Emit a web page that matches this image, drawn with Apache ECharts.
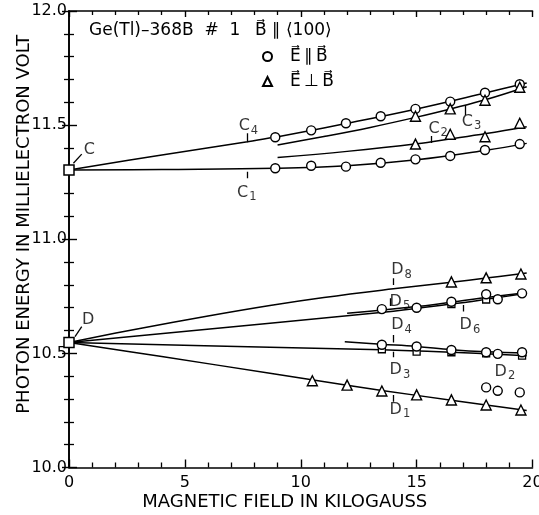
<!DOCTYPE html>
<html>
<head>
<meta charset="utf-8">
<script src="https://cdn.jsdelivr.net/npm/echarts@6/dist/echarts.min.js"></script>
<style>
  html, body { margin: 0; padding: 0; background: #fff; }
  #chart { width: 539px; height: 515px; }
</style>
</head>
<body>
<div id="chart"></div>
<script>
const FONT = 'DejaVu Sans';
const INK = '#000';

// Axis ticks
const xTicks = [0, 5, 10, 15, 20];
const yTicks = [10.0, 10.5, 11.0, 11.5, 12.0];

// Zero-field levels C and D
const originNames = ['C', 'D'];
const originEnergy = [11.303, 10.548];

// C group: measured levels (kG, meV)
const fieldC = [8.9, 10.45, 11.95, 13.45, 14.95, 16.45, 17.95, 19.45];
const energyC4 = [11.447, 11.477, 11.508, 11.539, 11.571, 11.603, 11.642, 11.679];
const energyC1 = [11.311, 11.322, 11.318, 11.335, 11.350, 11.365, 11.391, 11.417];
const fieldC23 = [14.95, 16.45, 17.95, 19.45];
const energyC3 = [11.539, 11.571, 11.609, 11.666];
const energyC2 = [11.417, 11.460, 11.449, 11.508];

// D group: measured levels
const fieldD8 = [16.5, 18.0, 19.5];
const energyD8 = [10.813, 10.831, 10.848];
const fieldD45 = [13.5, 15.0, 16.5, 18.0, 18.5, 19.55];
const energyD5 = [10.694, 10.700, 10.726, 10.759, 10.737, 10.763];
const energyD4 = [10.538, 10.530, 10.515, 10.505, 10.498, 10.505];
const fieldD6 = [16.5, 18.0];
const energyD6 = [10.716, 10.736];
const fieldD3 = [13.5, 15.0, 16.5, 18.0, 19.55];
const energyD3 = [10.518, 10.508, 10.505, 10.500, 10.490];
const fieldD1 = [10.5, 12.0, 13.5, 15.0, 16.5, 18.0, 19.5];
const energyD1 = [10.380, 10.361, 10.335, 10.318, 10.296, 10.274, 10.252];
const fieldD2 = [18.0, 18.5, 19.45];
const energyD2 = [10.351, 10.336, 10.329];

// Fitted curves through the levels
const curveC4Field = [0, 3.8, 7.7, 8.7];
const curveC4Energy = [11.303, 11.366, 11.427, 11.445];
const fitC4Field = [8.9, 12, 15, 18, 19.75];
const fitC4Energy = [11.447, 11.508, 11.571, 11.642, 11.685];
const fitC1Field = [0, 4, 8.9, 12, 15, 18, 19.75];
const fitC1Energy = [11.303, 11.306, 11.311, 11.322, 11.348, 11.390, 11.420];
const fitC3Field = [9, 11, 13, 15, 16.5, 18, 19.75];
const fitC3Energy = [11.413, 11.450, 11.490, 11.535, 11.572, 11.612, 11.668];
const fitC2Field = [9, 12, 15, 16.5, 18, 19.75];
const fitC2Energy = [11.358, 11.385, 11.418, 11.440, 11.463, 11.493];

const fitD8Field = [0, 3, 6, 8.67, 11, 14, 16.5, 18, 19.75];
const fitD8Energy = [10.548, 10.608, 10.664, 10.710, 10.745, 10.783, 10.812, 10.830, 10.852];
const fitD6Field = [0, 8.67, 14, 16.5, 18, 19.75];
const fitD6Energy = [10.548, 10.632, 10.685, 10.716, 10.737, 10.763];
const fitD5Field = [12, 15, 18, 19.75];
const fitD5Energy = [10.676, 10.705, 10.745, 10.766];
const fitD4Field = [11.9, 13.5, 15, 16.5, 18, 19.75];
const fitD4Energy = [10.551, 10.540, 10.530, 10.516, 10.507, 10.502];
const fitD3Field = [0, 8.67, 13.5, 16.5, 19.75];
const fitD3Energy = [10.548, 10.527, 10.516, 10.505, 10.490];
const fitD1Field = [0, 4, 8.67, 12, 15, 18, 19.75];
const fitD1Energy = [10.548, 10.486, 10.413, 10.360, 10.316, 10.274, 10.250];

// Level labels with their pointer strokes (data units)
const callouts = [
  { text: 'C', sub: '',  at: [0.88, 11.390], tick: [[0.19, 11.333], [0.55, 11.373]] },
  { text: 'D', sub: '',  at: [0.83, 10.646], tick: [[0.26, 10.573], [0.55, 10.617]] },
  { text: 'C', sub: '4', at: [7.74, 11.496], tick: [[7.68, 11.464], [7.68, 11.425]] },
  { text: 'C', sub: '1', at: [7.67, 11.205], tick: [[7.68, 11.296], [7.68, 11.267]] },
  { text: 'C', sub: '2', at: [15.93, 11.483], tick: [[15.65, 11.452], [15.65, 11.422]] },
  { text: 'C', sub: '3', at: [17.37, 11.515], tick: [[17.08, 11.588], [17.08, 11.544]] },
  { text: 'D', sub: '8', at: [14.35, 10.865], tick: [[13.99, 10.829], [13.99, 10.800]] },
  { text: 'D', sub: '5', at: [14.28, 10.726], tick: [[13.88, 10.741], [13.88, 10.708]] },
  { text: 'D', sub: '4', at: [14.35, 10.624], tick: [[14.0, 10.580], [14.0, 10.548]] },
  { text: 'D', sub: '6', at: [17.30, 10.624], tick: [[17.01, 10.712], [17.01, 10.683]] },
  { text: 'D', sub: '3', at: [14.28, 10.427], tick: [[14.0, 10.507], [14.0, 10.483]] },
  { text: 'D', sub: '1', at: [14.28, 10.252], tick: [[14.0, 10.318], [14.0, 10.288]] },
  { text: 'D', sub: '2', at: [18.81, 10.420], tick: null }
];

const zip = (xs, ys) => xs.map((x, i) => [x, ys[i]]);

const ARROW = '\u20D7';
const PARALLEL = '\u2225';
const nameParallel = 'E' + ARROW + '\u2009' + PARALLEL + '\u2009' + 'B' + ARROW;
const namePerp = 'E' + ARROW + '\u2009\u22A5\u2009' + 'B' + ARROW;

const curves = [
  [curveC4Field, curveC4Energy], [fitC4Field, fitC4Energy], [fitC1Field, fitC1Energy],
  [fitC3Field, fitC3Energy], [fitC2Field, fitC2Energy],
  [fitD8Field, fitD8Energy], [fitD6Field, fitD6Energy], [fitD5Field, fitD5Energy],
  [fitD4Field, fitD4Energy], [fitD3Field, fitD3Energy], [fitD1Field, fitD1Energy]
];

const circlePts = [].concat(
  zip(fieldC, energyC4), zip(fieldC, energyC1),
  zip(fieldD45, energyD5), zip(fieldD45, energyD4), zip(fieldD2, energyD2)
);
const trianglePts = [].concat(
  zip(fieldC23, energyC3), zip(fieldC23, energyC2),
  zip(fieldD8, energyD8), zip(fieldD1, energyD1)
);
const squarePts = [].concat(zip(fieldD6, energyD6), zip(fieldD3, energyD3));
const originPts = originEnergy.map((e, i) => ({ name: originNames[i], value: [0, e] }));

const series = [];
curves.forEach(([xs, ys]) => {
  series.push({
    type: 'line', data: zip(xs, ys), smooth: 0.4, showSymbol: false, silent: true,
    lineStyle: { color: INK, width: 1.5 }, z: 2
  });
});
series.push({
  type: 'lines', coordinateSystem: 'cartesian2d', silent: true, z: 2,
  lineStyle: { color: INK, width: 1.3, opacity: 1 },
  data: callouts.filter(c => c.tick).map(c => ({ coords: c.tick }))
});
series.push({
  name: nameParallel, type: 'scatter', symbol: 'circle', symbolSize: 9, z: 4,
  itemStyle: { color: '#fff', borderColor: INK, borderWidth: 1.4, opacity: 1 },
  data: circlePts
});
series.push({
  name: namePerp, type: 'scatter', symbol: 'triangle', symbolSize: 10, z: 4,
  itemStyle: { color: '#fff', borderColor: INK, borderWidth: 1.4, opacity: 1 },
  data: trianglePts
});
series.push({
  type: 'scatter', symbol: 'rect', symbolSize: 7, z: 3,
  itemStyle: { color: '#fff', borderColor: INK, borderWidth: 1.3, opacity: 1 },
  data: squarePts
});
series.push({
  type: 'scatter', symbol: 'rect', symbolSize: 10, z: 5,
  itemStyle: { color: '#fff', borderColor: INK, borderWidth: 1.5, opacity: 1 },
  data: originPts
});
series.push({
  type: 'scatter', symbolSize: 0, silent: true, z: 6,
  data: callouts.map(c => ({ name: c.text, value: c.at, sub: c.sub })),
  label: {
    show: true, position: 'inside', color: INK,
    formatter: p => p.data.sub ? '{m|' + p.data.name + '}{s|' + p.data.sub + '}' : '{m|' + p.data.name + '}',
    rich: {
      m: { fontFamily: FONT, fontSize: 16, color: INK },
      s: { fontFamily: FONT, fontSize: 11.5, color: INK, padding: [9, 0, 0, 1] }
    }
  }
});

const tickStyle = {
  axisLine: { show: true, lineStyle: { color: INK, width: 1.6 } },
  axisTick: { show: true, inside: true, length: 8, lineStyle: { color: INK, width: 1.4 } },
  minorTick: { show: true, splitNumber: 5, length: 5, lineStyle: { color: INK, width: 1.3 } },
  splitLine: { show: false },
  minorSplitLine: { show: false }
};

const xBase = { type: 'value', min: xTicks[0], max: xTicks[xTicks.length - 1], interval: 5 };
const yBase = { type: 'value', min: yTicks[0], max: yTicks[yTicks.length - 1], interval: 0.5 };

const chart = echarts.init(document.getElementById('chart'), null, { renderer: 'canvas' });
chart.setOption({
  backgroundColor: '#fff',
  animation: false,
  textStyle: { fontFamily: FONT, color: INK },
  title: [
    {
      text: 'Ge(Tl)\u2013368B  #  1', left: 89, top: 22, padding: 0,
      textStyle: { fontFamily: FONT, fontSize: 17, fontWeight: 'normal', color: INK }
    },
    {
      text: 'B' + ARROW + ' ' + PARALLEL + ' \u27E8100\u27E9', left: 255, top: 22, padding: 0,
      textStyle: { fontFamily: FONT, fontSize: 17, fontWeight: 'normal', color: INK }
    }
  ],
  legend: {
    data: [nameParallel, namePerp], orient: 'vertical', left: 262, top: 48, padding: 0,
    itemWidth: 9, itemHeight: 9, itemGap: 8, selectedMode: false,
    textStyle: { fontFamily: FONT, fontSize: 17, color: INK, padding: [0, 0, 0, 13] }
  },
  grid: { left: 69, right: 6.5, top: 11, bottom: 47.5, containLabel: false, outerBoundsMode: 'none' },
  xAxis: [
    Object.assign({}, xBase, tickStyle, {
      position: 'bottom',
      name: 'MAGNETIC FIELD IN KILOGAUSS', nameLocation: 'middle', nameGap: 26, nameMoveOverlap: false,
      nameTextStyle: { fontFamily: FONT, fontSize: 18, color: INK, padding: [0, 32, 0, 0] },
      axisLabel: { show: true, margin: 7, fontFamily: FONT, fontSize: 16, color: INK,
        formatter: v => String(v) }
    }),
    Object.assign({}, xBase, tickStyle, { position: 'top', axisLabel: { show: false },
      axisTick: { show: true, inside: true, length: 6, lineStyle: { color: INK, width: 1.4 } },
      minorTick: { show: true, splitNumber: 5, length: 4, lineStyle: { color: INK, width: 1.3 } } })
  ],
  yAxis: [
    Object.assign({}, yBase, tickStyle, {
      position: 'left',
      name: 'PHOTON ENERGY IN MILLIELECTRON VOLT', nameLocation: 'middle', nameGap: 36, nameMoveOverlap: false,
      nameTextStyle: { fontFamily: FONT, fontSize: 18, color: INK, padding: [0, 0, 0, 30] },
      axisLabel: { show: true, margin: 2, fontFamily: FONT, fontSize: 16, color: INK,
        formatter: v => v.toFixed(1) }
    }),
    Object.assign({}, yBase, tickStyle, { position: 'right', axisLabel: { show: false },
      axisTick: { show: true, inside: true, length: 7, lineStyle: { color: INK, width: 1.4 } },
      minorTick: { show: true, splitNumber: 5, length: 5, lineStyle: { color: INK, width: 1.3 } } })
  ],
  series: series.map(s => Object.assign({ xAxisIndex: 0, yAxisIndex: 0 }, s))
});
</script>
</body>
</html>
